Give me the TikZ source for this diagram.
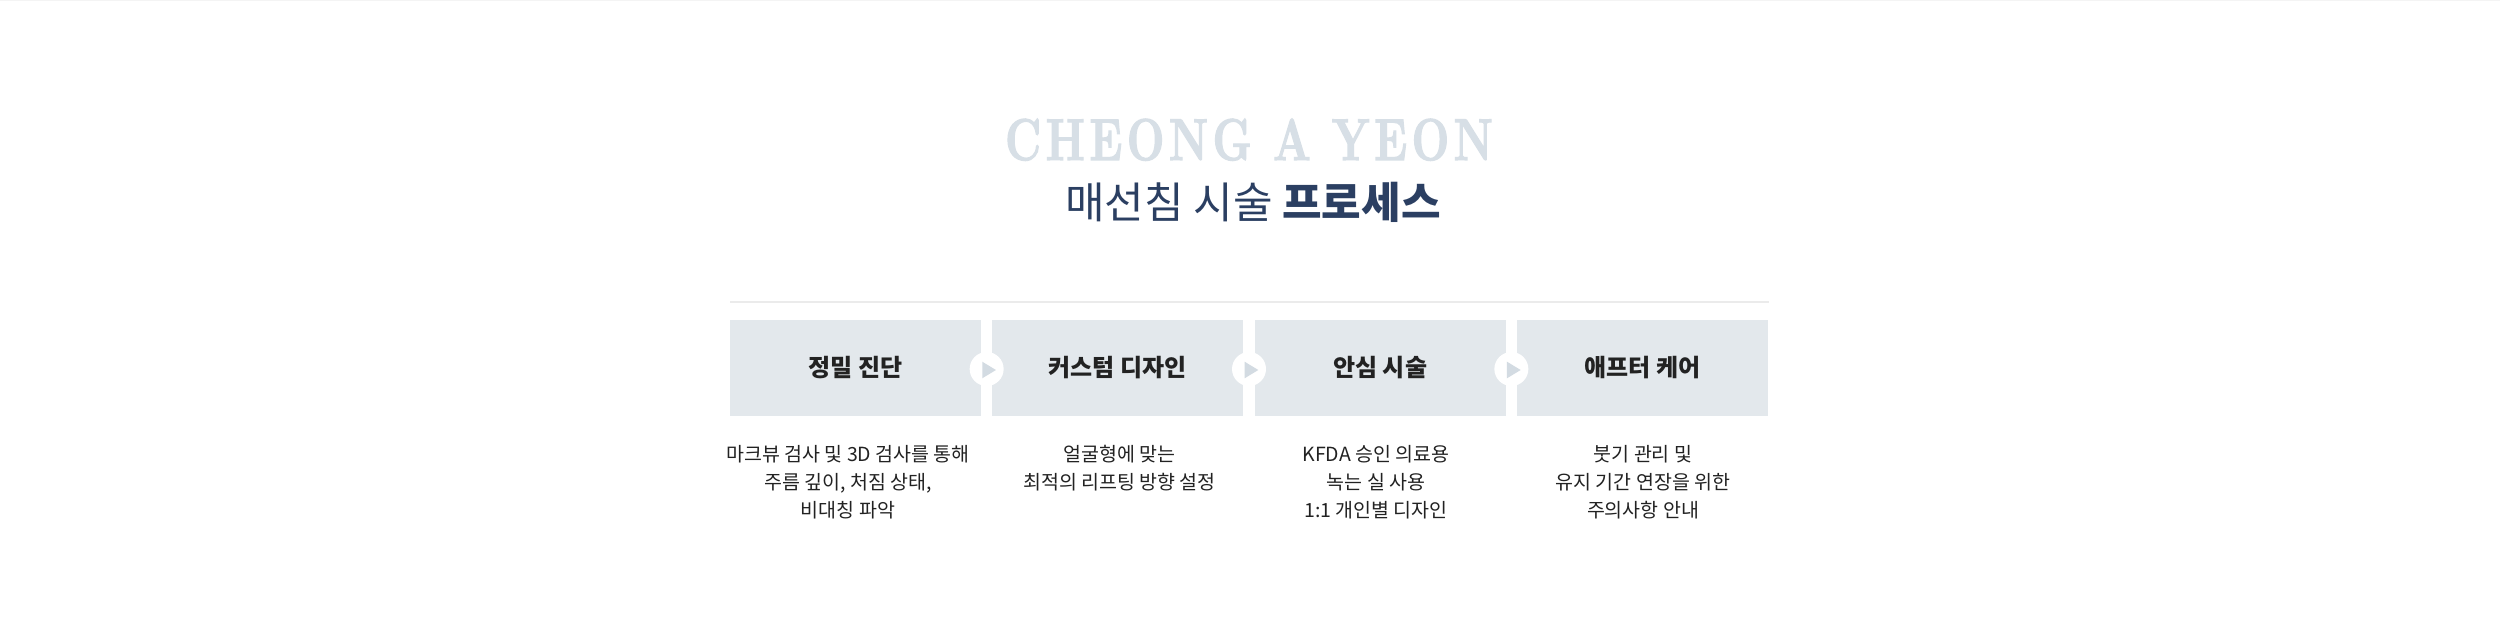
\documentclass[tikz,border=0pt]{standalone}
\usepackage{fontspec}
\usetikzlibrary{calc}
\newfontfamily\kr{Noto Sans CJK KR}
\newfontfamily\enfont[FakeStretch=0.75,LetterSpace=8,FakeBold=2]{Latin Modern Roman}
\definecolor{navy}{HTML}{2B3F62}
\definecolor{titlegrey}{HTML}{D7DFE6}
\definecolor{boxfill}{HTML}{E3E8EC}
\definecolor{trifill}{HTML}{D3DBE2}
\definecolor{rulegrey}{HTML}{EBEBEB}
\definecolor{topgrey}{HTML}{F4F4F4}
\definecolor{ink}{HTML}{222222}
\tikzset{
  stepbox/.style={fill=boxfill, draw=none, minimum width=251pt, minimum height=96pt, inner sep=0pt,
    text=ink, font=\kr\bfseries\fontsize{24}{24}\selectfont},
  joint/.style={circle, fill=white, draw=none, minimum size=34pt, inner sep=0pt},
  tri/.style={fill=trifill},
  desc/.style={align=center, inner sep=0pt, text=ink, font=\kr\fontsize{19.5}{28}\selectfont, anchor=north},
}
\begin{document}
\begin{tikzpicture}[x=1pt,y=-1pt]
\useasboundingbox (0,0) rectangle (2500,636);
\fill[white] (0,0) rectangle (2500,636);
\draw[topgrey, line width=1.5pt] (0,0.75) -- (2500,0.75);

\node[inner sep=0pt, text=titlegrey, anchor=base, font=\enfont\bfseries\fontsize{59}{59}\selectfont] (en) at (1249,160) {CHEONG A YEON};
\node[inner sep=0pt, text=navy, font=\kr\fontsize{43}{43}\selectfont] (kt) at (1253,202) {매선침 시술 \textbf{프로세스}};

\coordinate (rl) at (730,302);
\coordinate (rr) at (1769,302);
\draw[rulegrey, line width=1.5pt] (rl) -- (rr);

\node[stepbox] (b1) at (855.5,368) {정밀 진단};
\node[stepbox] (b2) at (1117.8,368) {커스텀 디자인};
\node[stepbox] (b3) at (1380.2,368) {안심 시술};
\node[stepbox] (b4) at (1642.5,368) {애프터 케어};

\foreach \a/\b/\n in {b1/b2/c1, b2/b3/c2, b3/b4/c3}{
  \node[joint] (\n) at ($(\a.east)!0.5!(\b.west)+(0,1)$) {};
  \fill[tri] ($(\n.center)+(-4.4,-7.3)$) -- ($(\n.center)+(-4.4,9.3)$) -- ($(\n.center)+(9.3,1)$) -- cycle;
}

\node[desc] (d1) at (848,445) {마크뷰 검사 및 3D 검사를 통해\\주름 깊이, 처짐 상태,\\비대칭 파악};
\node[desc] (d2) at (1119.5,445) {얼굴형에 맞는\\최적의 리프팅 방향 설정};
\node[desc] (d3) at (1376,445) {KFDA 승인 의료용\\녹는 실 사용\\1:1 개인별 디자인};
\node[desc] (d4) at (1643,445) {붓기 관리 및\\유지 기간 연장을 위한\\주의사항 안내};
\end{tikzpicture}
\end{document}
